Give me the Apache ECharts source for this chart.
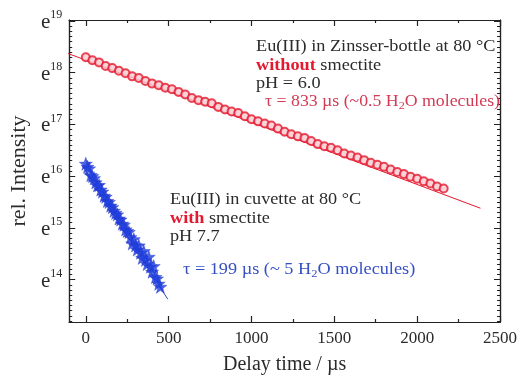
<!DOCTYPE html>
<html><head><meta charset="utf-8">
<script src="https://cdn.jsdelivr.net/npm/echarts@6/dist/echarts.min.js"></script>
<style>html,body{margin:0;padding:0;background:#fff}#c{width:520px;height:380px}</style>
</head><body><div id="c"></div>
<script>
// ln(rel. Intensity) values; y axis is shown as powers of e
const redX = [0,40,80,120,160,200,240,280,320,360,400,440,480,520,560,600,640,680,720,760,800,840,880,920,960,1000,1040,1080,1120,1160,1200,1240,1280,1320,1360,1400,1440,1480,1520,1560,1600,1640,1680,1720,1760,1800,1840,1880,1920,1960,2000,2040,2080,2120,2160];
const redLnI = [18.30,18.24,18.20,18.13,18.09,18.04,17.99,17.93,17.90,17.84,17.79,17.76,17.71,17.68,17.63,17.58,17.51,17.47,17.44,17.41,17.34,17.29,17.25,17.22,17.16,17.10,17.06,17.02,16.98,16.92,16.86,16.81,16.77,16.74,16.68,16.62,16.58,16.55,16.50,16.44,16.40,16.36,16.31,16.26,16.22,16.18,16.13,16.08,16.04,15.99,15.95,15.90,15.86,15.80,15.76];
const redFitX = [-222, 2382];
const redFitLnI = [18.51, 15.38];

const blueX = [0,10,20,30,40,50,60,70,80,90,100,110,120,130,140,150,160,170,180,190,200,210,220,230,240,250,260,270,280,290,300,310,320,330,340,350,360,370,380,390,400,410,420,430,440,450];
const blueLnI = [16.24,16.18,16.15,16.02,16.00,15.96,15.88,15.82,15.83,15.74,15.70,15.62,15.60,15.52,15.50,15.43,15.40,15.33,15.29,15.26,15.18,15.16,15.08,15.06,14.97,14.94,14.92,14.82,14.70,14.78,14.66,14.58,14.66,14.52,14.42,14.55,14.38,14.30,14.44,14.25,14.15,14.26,14.05,14.02,13.92,13.86];
const blueFitX = [-20, 495];
const blueFitLnI = [16.20, 13.62];

const xMajor = [0,500,1000,1500,2000,2500];
const xMinor = [250,750,1250,1750,2250];
const yMajor = [14,15,16,17,18,19];

const yMinor = [];
for (let i = 132; i <= 190; i++) yMinor.push(i / 10);

const zip = (a, b) => a.map((v, i) => [v, b[i]]);
const serif = '"Liberation Serif", "DejaVu Serif", serif';
const txt = '#2b2b2b';
const RED = '#e3192f';
const BLUE = '#1f3fe0';
const star = 'path://M0,-10 L2.35,-3.24 L9.51,-3.09 L3.80,1.24 L5.88,8.09 L0,4 L-5.88,8.09 L-3.80,1.24 L-9.51,-3.09 L-2.35,-3.24 Z';

const XMIN = -100, XMAX = 2500, YMIN = 13.18, YMAX = 19.02;

function xAx(pos, major, len, labels, extra) {
  return Object.assign({
    type: 'value', position: pos, min: XMIN, max: XMAX,
    axisLine: { show: true, onZero: false, lineStyle: { color: '#222', width: 1.2 } },
    axisTick: { show: true, inside: true, length: len, customValues: major, lineStyle: { color: '#222', width: 1.2 } },
    axisLabel: labels ? { show: true, customValues: major, color: txt, fontFamily: serif, fontSize: 17, margin: 8,
      formatter: v => String(v) } : { show: false },
    splitLine: { show: false }
  }, extra || {});
}
function yAx(pos, vals, len, labels, extra) {
  return Object.assign({
    type: 'value', position: pos, min: YMIN, max: YMAX,
    axisLine: { show: true, onZero: false, lineStyle: { color: '#222', width: 1.2 } },
    axisTick: { show: true, inside: true, length: len, customValues: vals, lineStyle: { color: '#222', width: 1 } },
    axisLabel: labels ? {
      show: true, customValues: vals, margin: 7,
      formatter: v => '{e|e}{s|' + Math.round(v) + '}',
      rich: {
        e: { fontFamily: serif, fontSize: 21, color: txt, verticalAlign: 'bottom', lineHeight: 24 },
        s: { fontFamily: serif, fontSize: 12, color: txt, verticalAlign: 'top', lineHeight: 24 }
      }
    } : { show: false },
    splitLine: { show: false }
  }, extra || {});
}

function note(x, y, text, fill, sx) {
  return { type: 'text', x: x, y: y, scaleX: sx || 1.14, z: 10, style: {
    text: text, font: '16px ' + serif, fill: fill, lineHeight: 18.5, textVerticalAlign: 'top',
    rich: {
      b: { fontFamily: serif, fontSize: 16, fontWeight: 'bold', fill: RED, color: RED, lineHeight: 18.5 },
      sub: { fontFamily: serif, fontSize: 11, fill: fill, color: fill, verticalAlign: 'bottom', lineHeight: 12 }
    } } };
}

const chart = echarts.init(document.getElementById('c'));
chart.setOption({
  animation: false,
  backgroundColor: '#fff',
  grid: { left: 69, right: 20, top: 20, bottom: 58 },
  xAxis: [
    xAx('bottom', xMajor, 6, true, { name: 'Delay time / µs', nameLocation: 'middle', nameGap: 33,
      nameTextStyle: { fontFamily: serif, fontSize: 20, color: txt } }),
    xAx('bottom', xMinor, 3, false),
    xAx('top', xMajor, 6, false),
    xAx('top', xMinor, 3, false)
  ],
  yAxis: [
    yAx('left', yMajor, 6, true, { name: 'rel. Intensity', nameLocation: 'middle', nameGap: 37,
      nameTextStyle: { fontFamily: serif, fontSize: 22, color: txt } }),
    yAx('left', yMinor, 3, false),
    yAx('right', yMajor, 6, false),
    yAx('right', yMinor, 3, false)
  ],
  series: [
    { type: 'line', data: zip(redFitX, redFitLnI), xAxisIndex: 0, yAxisIndex: 0, symbol: 'none', clip: false,
      lineStyle: { color: RED, width: 1 }, z: 2 },
    { type: 'scatter', data: zip(redX, redLnI), xAxisIndex: 0, yAxisIndex: 0, symbol: 'circle', symbolSize: 8,
      itemStyle: { color: '#f7c9cf', borderColor: RED, borderWidth: 2 }, z: 3 },
    { type: 'line', data: zip(blueFitX, blueFitLnI), xAxisIndex: 0, yAxisIndex: 0, symbol: 'none', clip: false,
      lineStyle: { color: '#3a4fb0', width: 1 }, z: 2 },
    { type: 'scatter', data: zip(blueX, blueLnI), xAxisIndex: 0, yAxisIndex: 0, symbol: star, symbolSize: 13,
      itemStyle: { color: BLUE, borderColor: '#2238c8', borderWidth: 0.5 }, z: 3 }
  ],
  graphic: [
    note(256, 38, 'Eu(III) in Zinsser-bottle at 80 °C\n{b|without} smectite\npH = 6.0', txt),
    note(265, 93, 'τ = 833 µs (~0.5 H{sub|2}O molecules)', '#d23a55', 1.11),
    note(170, 191, 'Eu(III) in cuvette at 80 °C\n{b|with} smectite\npH 7.7', txt),
    note(183, 261, 'τ = 199 µs (~ 5 H{sub|2}O molecules)', '#3650c4')
  ]
});
</script></body></html>
